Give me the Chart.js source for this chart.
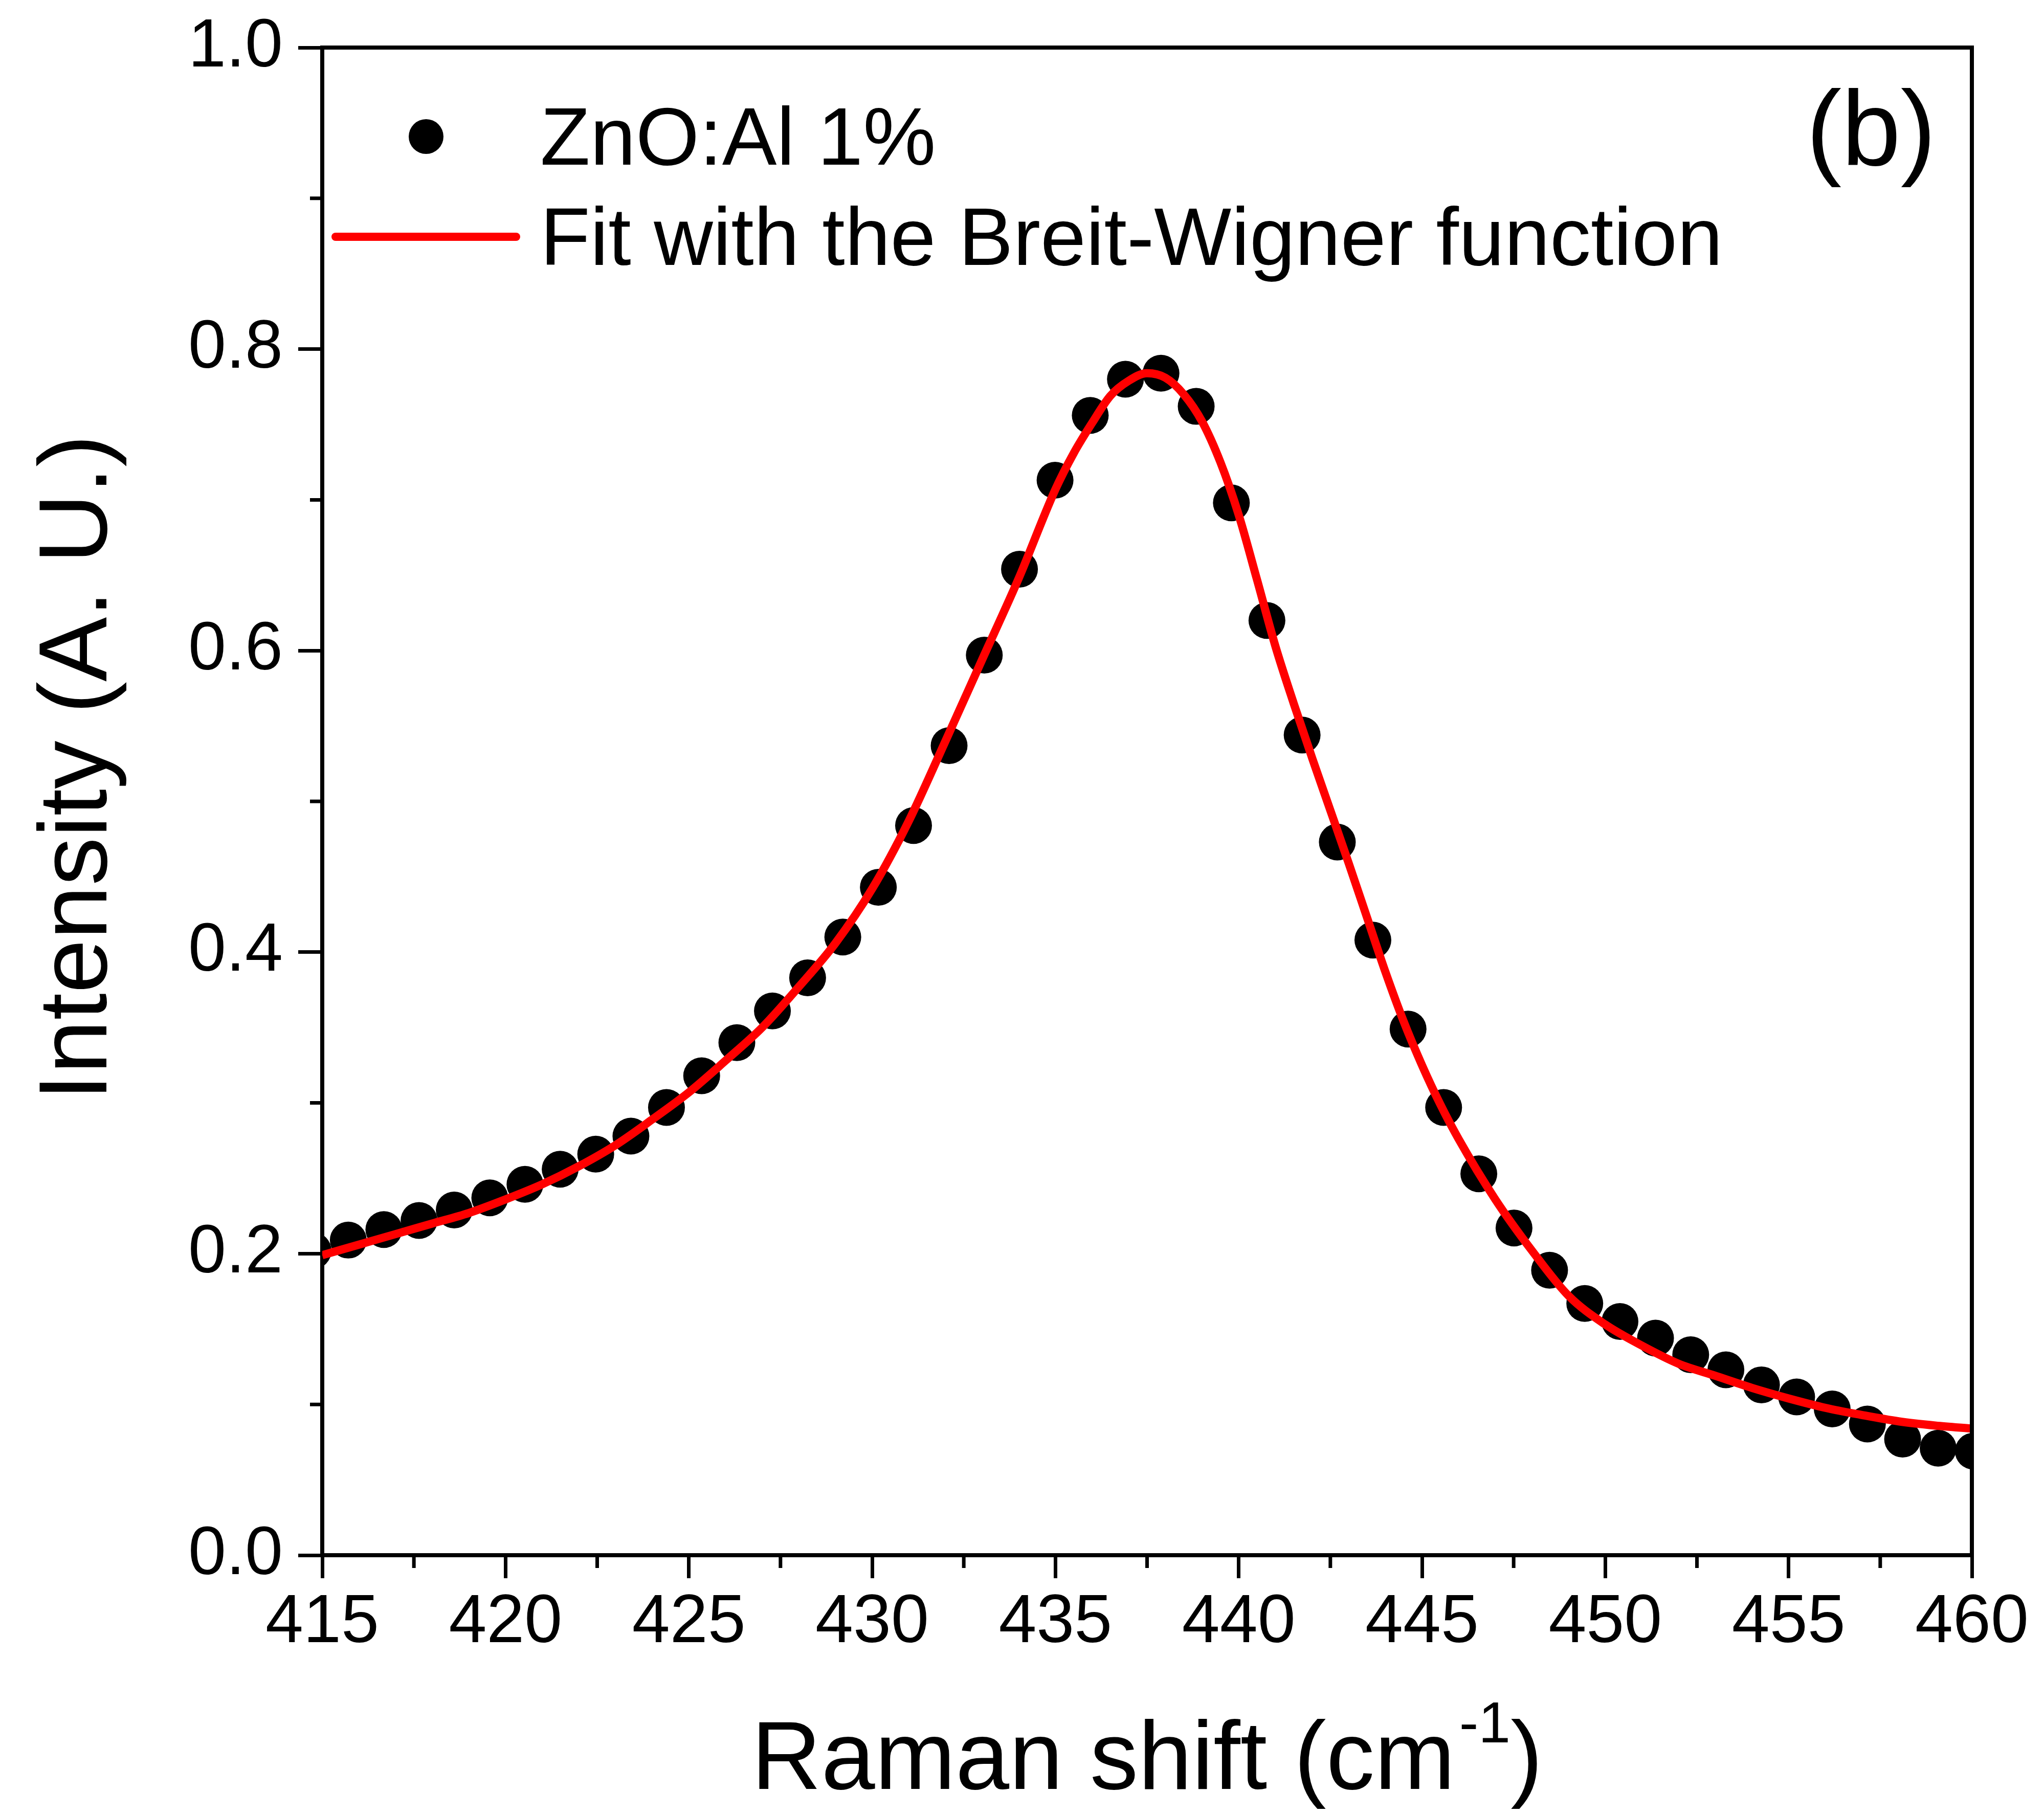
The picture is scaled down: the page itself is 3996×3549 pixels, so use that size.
<!DOCTYPE html>
<html>
<head>
<meta charset="utf-8">
<title>ZnO:Al 1% - Breit-Wigner fit</title>
<script src="https://cdn.jsdelivr.net/npm/chart.js@4.4.1/dist/chart.umd.min.js"></script>
<style>
  html, body { margin: 0; padding: 0; background: #fff; }
</style>
</head>
<body>
<canvas id="chart-raman" width="3996" height="3549"></canvas>
<script>
// measured points (Raman shift in cm-1, intensity in A. U.)
const dataShift = [414.75, 415.71, 416.68, 417.64, 418.60, 419.57, 420.53, 421.49, 422.46, 423.42,
    424.39, 425.35, 426.31, 427.28, 428.24, 429.20, 430.17, 431.13, 432.10, 433.06,
    434.02, 434.99, 435.95, 436.91, 437.88, 438.84, 439.80, 440.77, 441.73, 442.69,
    443.66, 444.62, 445.59, 446.55, 447.51, 448.48, 449.44, 450.40, 451.37, 452.33,
    453.29, 454.26, 455.22, 456.19, 457.15, 458.11, 459.08, 460.04];
const dataIntensity = [0.202, 0.209, 0.216, 0.222, 0.229, 0.237, 0.246, 0.256, 0.266, 0.278,
    0.297, 0.318, 0.340, 0.361, 0.383, 0.410, 0.443, 0.484, 0.537, 0.597,
    0.654, 0.713, 0.756, 0.780, 0.784, 0.762, 0.698, 0.620, 0.544, 0.473,
    0.408, 0.349, 0.297, 0.253, 0.217, 0.189, 0.167, 0.155, 0.144, 0.133,
    0.123, 0.113, 0.105, 0.097, 0.087, 0.077, 0.071, 0.069];

// Breit-Wigner fit curve
const fitShift = [415, 416, 417, 418, 419, 420, 421, 422, 423, 424,
    425, 426, 427, 428, 429, 430, 431, 432, 433, 434,
    435, 435.5, 436, 436.5, 437, 437.5, 438, 438.5, 439, 439.5,
    440, 440.5, 441, 441.5, 442, 442.5, 443, 443.5, 444, 444.5,
    445, 445.5, 446, 447, 448, 449, 450, 451, 452, 453,
    454, 455, 456, 457, 458, 459, 460];
const fitIntensity = [0.199, 0.206, 0.213, 0.220, 0.227, 0.236, 0.246, 0.258, 0.272, 0.289,
    0.307, 0.328, 0.350, 0.377, 0.406, 0.442, 0.487, 0.540, 0.594, 0.648,
    0.707, 0.731, 0.751, 0.769, 0.779, 0.784, 0.781, 0.770, 0.752, 0.725,
    0.690, 0.647, 0.603, 0.565, 0.529, 0.494, 0.459, 0.423, 0.387, 0.354,
    0.325, 0.299, 0.276, 0.236, 0.202, 0.172, 0.153, 0.139, 0.127, 0.119,
    0.111, 0.104, 0.0978, 0.0930, 0.0888, 0.0860, 0.0840];

const xTickValues = [415, 420, 425, 430, 435, 440, 445, 450, 455, 460];
const yTickValues = [0.0, 0.2, 0.4, 0.6, 0.8, 1.0];

const dataLabel = 'ZnO:Al 1%';
const fitLabel = 'Fit with the Breit-Wigner function';
const xTitleMain = 'Raman shift (cm';
const xTitleSup = '-1';
const xTitleEnd = ')';
const yTitle = 'Intensity (A. U.)';
const panelTag = '(b)';

const FONT = '"Liberation Sans", Arial, sans-serif';

/*
 * Box on top/right and the short minor ticks half way between the major ones
 */
const frameAndMinorTicks = {
    id: 'frameAndMinorTicks',
    afterDraw(chart) {
        const {ctx, chartArea} = chart;
        const xScale = chart.scales.x;
        const yScale = chart.scales.y;
        ctx.save();
        ctx.strokeStyle = '#000';
        ctx.lineWidth = 8;
        ctx.beginPath();
        ctx.moveTo(chartArea.left - 4, chartArea.top);
        ctx.lineTo(chartArea.right, chartArea.top);
        ctx.lineTo(chartArea.right, chartArea.bottom + 4);
        ctx.stroke();

        ctx.lineWidth = 7;
        ctx.beginPath();
        for(let i = 0; i < xScale.ticks.length - 1; i++){
            const px = xScale.getPixelForValue((xScale.ticks[i].value + xScale.ticks[i + 1].value) / 2);
            ctx.moveTo(px, chartArea.bottom);
            ctx.lineTo(px, chartArea.bottom + 25);
        }
        for(let i = 0; i < yScale.ticks.length - 1; i++){
            const py = yScale.getPixelForValue((yScale.ticks[i].value + yScale.ticks[i + 1].value) / 2);
            ctx.moveTo(chartArea.left, py);
            ctx.lineTo(chartArea.left - 24, py);
        }
        ctx.stroke();
        ctx.restore();
    }
};

/*
 * Axis titles (the x one needs a real superscript)
 */
const axisTitles = {
    id: 'axisTitles',
    afterDraw(chart) {
        const {ctx, chartArea} = chart;
        const mainFont = `189px ${FONT}`;
        const supFont = `113px ${FONT}`;
        ctx.save();
        ctx.fillStyle = '#000';
        ctx.textBaseline = 'alphabetic';
        ctx.textAlign = 'left';

        // x title
        ctx.font = mainFont;
        const wMain = ctx.measureText(xTitleMain).width;
        const wEnd = ctx.measureText(xTitleEnd).width;
        ctx.font = supFont;
        const wSup = ctx.measureText(xTitleSup).width;
        const gap = 8;
        const total = wMain + gap + wSup + wEnd;
        const baseY = chartArea.bottom + 457;
        let x = (chartArea.left + chartArea.right) / 2 - total / 2;
        ctx.font = mainFont;
        ctx.fillText(xTitleMain, x, baseY);
        x += wMain + gap;
        ctx.font = supFont;
        ctx.fillText(xTitleSup, x, baseY - 91);
        x += wSup;
        ctx.font = mainFont;
        ctx.fillText(xTitleEnd, x, baseY);

        // y title, reading upwards
        ctx.translate(208, (chartArea.top + chartArea.bottom) / 2 - 66);
        ctx.rotate(-Math.PI / 2);
        ctx.textAlign = 'center';
        ctx.font = mainFont;
        ctx.fillText(yTitle, 0, 0);
        ctx.restore();
    }
};

/*
 * Legend drawn inside the frame, top left, plus the panel tag
 */
const insideLegend = {
    id: 'insideLegend',
    afterDraw(chart) {
        const {ctx, chartArea} = chart;
        const dots = chart.data.datasets[0];
        const fit = chart.data.datasets[1];
        const left = chartArea.left;
        const top = chartArea.top;
        ctx.save();
        ctx.fillStyle = dots.pointBackgroundColor;
        ctx.beginPath();
        ctx.arc(left + 203, top + 174, 34, 0, Math.PI * 2);
        ctx.fill();

        ctx.strokeStyle = fit.borderColor;
        ctx.lineWidth = fit.borderWidth;
        ctx.lineCap = 'round';
        ctx.beginPath();
        ctx.moveTo(left + 26, top + 370);
        ctx.lineTo(left + 379, top + 370);
        ctx.stroke();

        ctx.fillStyle = '#000';
        ctx.textAlign = 'left';
        ctx.textBaseline = 'alphabetic';
        ctx.font = `160px ${FONT}`;
        ctx.fillText(dots.label, left + 426, top + 229);
        ctx.fillText(fit.label, left + 426, top + 425);

        ctx.textAlign = 'center';
        ctx.font = `208px ${FONT}`;
        ctx.fillText(panelTag, chartArea.right - 197, top + 230);
        ctx.restore();
    }
};

const ramanChart = document.getElementById('chart-raman');

new Chart(ramanChart, {
    type: 'scatter',
    data: {
        datasets: [{
            label: dataLabel,
            data: dataShift.map((x, i) => ({x: x, y: dataIntensity[i]})),
            pointRadius: 36,
            pointHoverRadius: 36,
            pointBorderWidth: 0,
            pointBackgroundColor: '#000000',
            pointStyle: 'circle',
            showLine: false,
            clip: 0,
            order: 1
        }, {
            label: fitLabel,
            data: fitShift.map((x, i) => ({x: x, y: fitIntensity[i]})),
            showLine: true,
            borderColor: '#ff0000',
            borderWidth: 16,
            pointRadius: 0,
            pointHoverRadius: 0,
            cubicInterpolationMode: 'monotone',
            tension: 0.4,
            clip: 0,
            order: 0
        }]
    },
    options: {
        responsive: false,
        animation: false,
        devicePixelRatio: 1,
        events: [],
        layout: {
            padding: {left: 0, right: 141, top: 93, bottom: 0}
        },
        plugins: {
            legend: {display: false},
            tooltip: {enabled: false}
        },
        scales: {
            x: {
                type: 'linear',
                min: 415,
                max: 460,
                afterBuildTicks: (scale) => { scale.ticks = xTickValues.map(v => ({value: v})); },
                afterFit: (scale) => { scale.height = 508; },
                border: {display: true, color: '#000', width: 8},
                grid: {
                    display: true,
                    drawOnChartArea: false,
                    drawTicks: true,
                    tickLength: 45,
                    tickWidth: 7,
                    tickColor: '#000',
                    color: '#000'
                },
                ticks: {
                    color: '#000',
                    padding: 9,
                    maxRotation: 0,
                    autoSkip: false,
                    font: {family: FONT, size: 133}
                },
                title: {display: false}
            },
            y: {
                type: 'linear',
                min: 0,
                max: 1,
                afterBuildTicks: (scale) => { scale.ticks = yTickValues.map(v => ({value: v})); },
                afterFit: (scale) => {
                    scale.width = 630;
                    scale.paddingTop = 0;
                    scale.paddingBottom = 0;
                },
                border: {display: true, color: '#000', width: 8},
                grid: {
                    display: true,
                    drawOnChartArea: false,
                    drawTicks: true,
                    tickLength: 47,
                    tickWidth: 7,
                    tickColor: '#000',
                    color: '#000'
                },
                ticks: {
                    color: '#000',
                    padding: 30,
                    autoSkip: false,
                    font: {family: FONT, size: 133},
                    callback: (value) => Number(value).toFixed(1)
                },
                title: {display: false}
            }
        }
    },
    plugins: [frameAndMinorTicks, axisTitles, insideLegend]
});
</script>
</body>
</html>
